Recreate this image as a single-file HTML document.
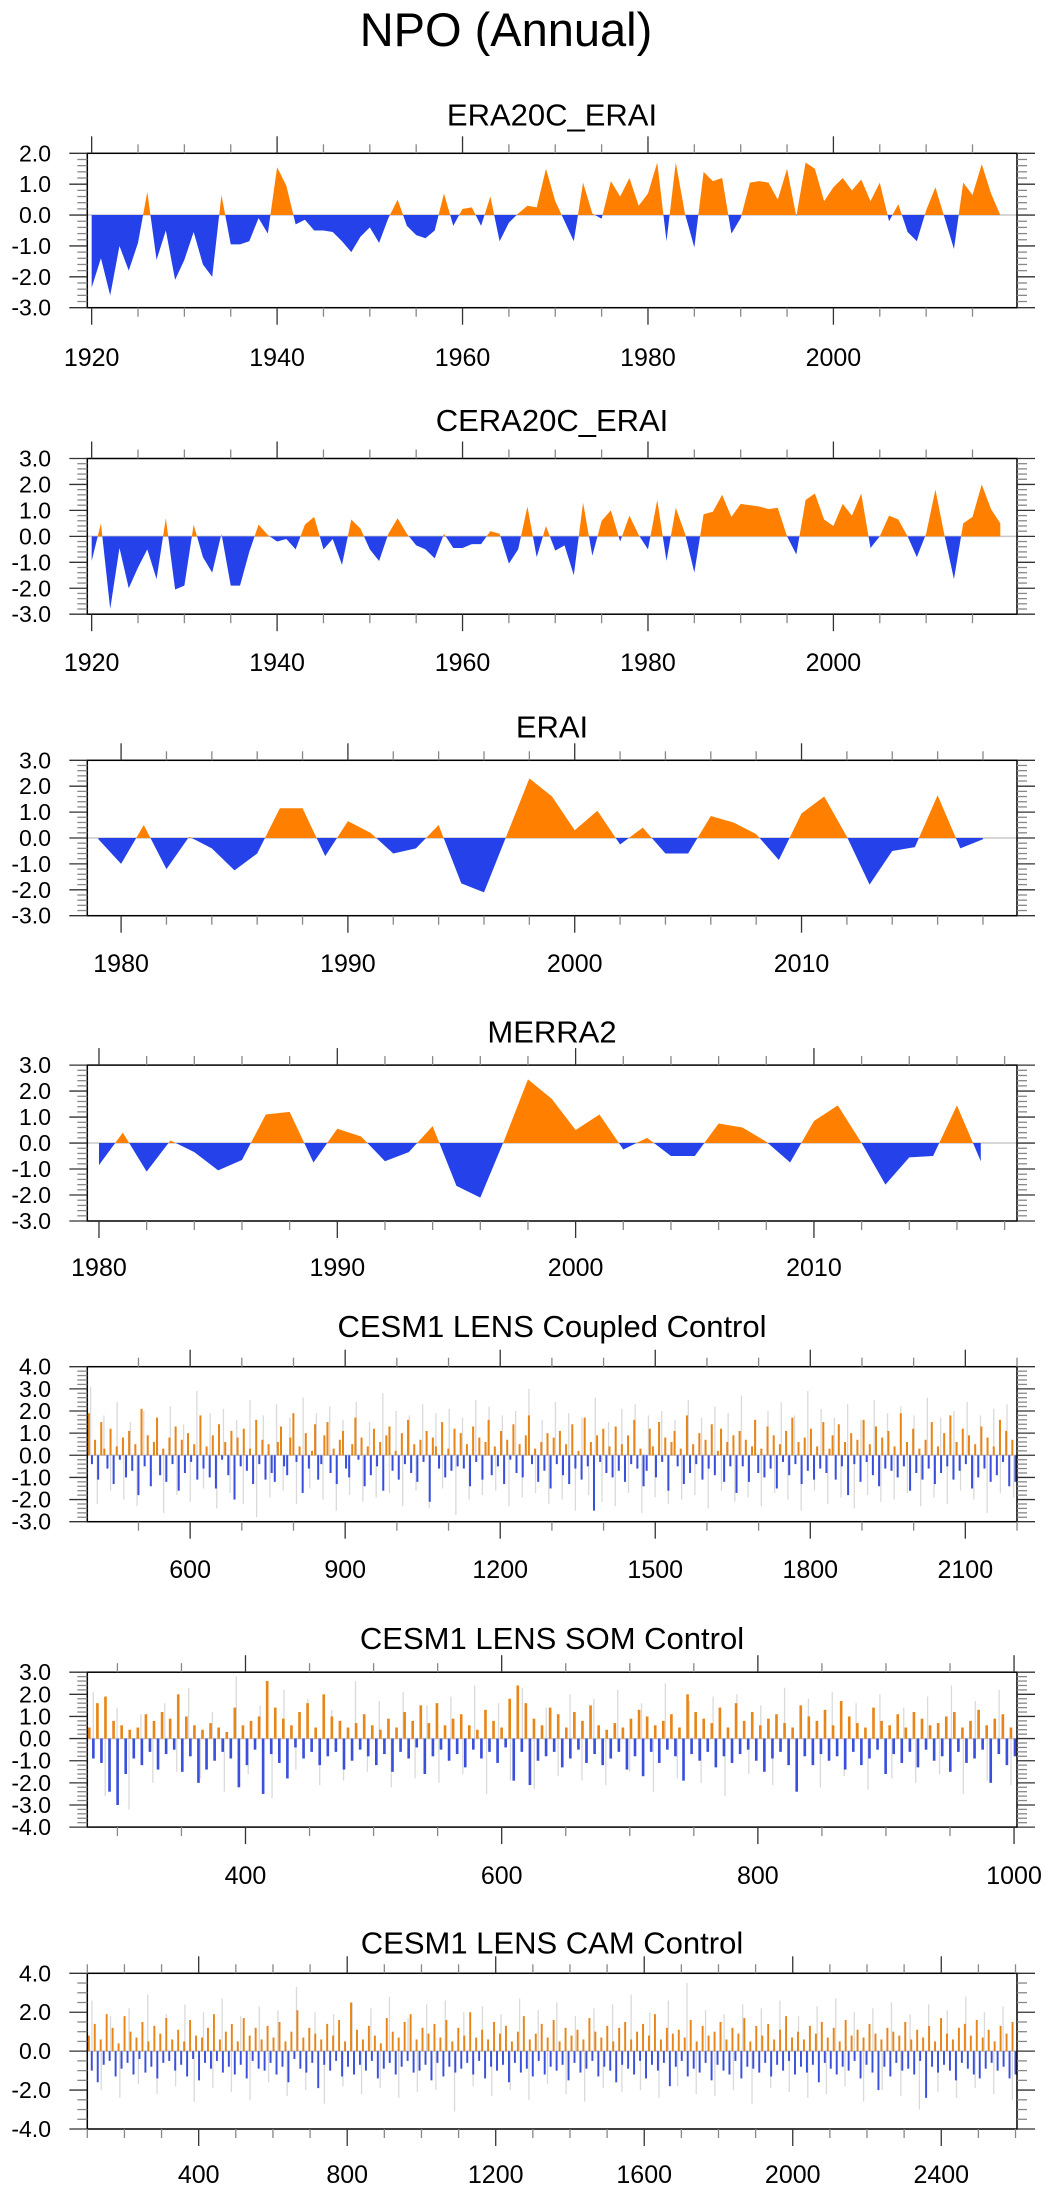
<!DOCTYPE html>
<html><head><meta charset="utf-8"><title>NPO (Annual)</title>
<style>
html,body{margin:0;padding:0;background:#fff;}
svg{display:block;font-family:"Liberation Sans",Arial,sans-serif;}
</style></head>
<body>
<svg id="fig" width="1049" height="2192" viewBox="0 0 1049 2192" xmlns="http://www.w3.org/2000/svg">
<rect x="0" y="0" width="1049" height="2192" fill="#fff"/>
<text x="506" y="46" font-size="47" text-anchor="middle" fill="#000">NPO (Annual)</text>
</svg>
<script>
// ---------- data ----------
const era20cYears = [1920,1921,1922,1923,1924,1925,1926,1927,1928,1929,1930,1931,1932,1933,1934,1935,1936,1937,1938,1939,1940,1941,1942,1943,1944,1945,1946,1947,1948,1949,1950,1951,1952,1953,1954,1955,1956,1957,1958,1959,1960,1961,1962,1963,1964,1965,1966,1967,1968,1969,1970,1971,1972,1973,1974,1975,1976,1977,1978,1979,1980,1981,1982,1983,1984,1985,1986,1987,1988,1989,1990,1991,1992,1993,1994,1995,1996,1997,1998,1999,2000,2001,2002,2003,2004,2005,2006,2007,2008,2009,2010,2011,2012,2013,2014,2015,2016,2017,2018];
const era20cValues = [-2.35,-1.4,-2.6,-1.0,-1.8,-0.9,0.75,-1.45,-0.5,-2.1,-1.45,-0.55,-1.6,-2.0,0.65,-0.95,-0.95,-0.85,-0.1,-0.6,1.55,0.95,-0.3,-0.15,-0.5,-0.5,-0.55,-0.85,-1.2,-0.7,-0.4,-0.9,-0.1,0.5,-0.35,-0.65,-0.75,-0.5,0.7,-0.35,0.2,0.25,-0.35,0.6,-0.85,-0.25,0.05,0.3,0.25,1.5,0.45,-0.2,-0.85,1.05,0.05,-0.12,1.1,0.6,1.2,0.3,0.7,1.7,-0.85,1.7,0.03,-1.05,1.4,1.1,1.2,-0.6,-0.1,1.05,1.1,1.05,0.5,1.5,-0.05,1.7,1.5,0.45,0.9,1.2,0.8,1.15,0.45,1.05,-0.2,0.35,-0.55,-0.85,0.15,0.9,-0.1,-1.1,1.05,0.65,1.65,0.7,0.0];
const ceraYears = era20cYears;
const ceraValues = [-0.95,0.5,-2.8,-0.45,-2.0,-1.2,-0.5,-1.65,0.7,-2.05,-1.9,0.45,-0.8,-1.4,0.1,-1.9,-1.9,-0.6,0.45,0.05,-0.2,-0.1,-0.5,0.45,0.75,-0.5,-0.1,-1.1,0.65,0.3,-0.5,-0.95,0.1,0.7,0.1,-0.35,-0.5,-0.85,0.1,-0.45,-0.45,-0.3,-0.3,0.2,0.1,-1.05,-0.5,1.15,-0.8,0.4,-0.55,-0.35,-1.5,1.3,-0.75,0.6,1.0,-0.2,0.8,0.05,-0.5,1.4,-0.95,1.1,0.1,-1.4,0.85,0.95,1.6,0.75,1.25,1.2,1.15,1.05,1.1,0.0,-0.7,1.4,1.65,0.65,0.4,1.25,0.8,1.65,-0.45,0.0,0.8,0.65,0.0,-0.8,0.1,1.8,0.0,-1.65,0.5,0.75,2.0,1.05,0.5];
const eraiYears = [1979,1980,1981,1982,1983,1984,1985,1986,1987,1988,1989,1990,1991,1992,1993,1994,1995,1996,1997,1998,1999,2000,2001,2002,2003,2004,2005,2006,2007,2008,2009,2010,2011,2012,2013,2014,2015,2016,2017,2018];
const eraiValues = [-0.05,-1.0,0.5,-1.2,0.05,-0.4,-1.25,-0.6,1.15,1.15,-0.7,0.65,0.2,-0.6,-0.4,0.5,-1.75,-2.1,0.1,2.3,1.6,0.3,1.05,-0.25,0.4,-0.6,-0.6,0.85,0.6,0.15,-0.85,0.95,1.6,0.05,-1.8,-0.5,-0.35,1.65,-0.4,-0.05];
const merraYears = [1980,1981,1982,1983,1984,1985,1986,1987,1988,1989,1990,1991,1992,1993,1994,1995,1996,1997,1998,1999,2000,2001,2002,2003,2004,2005,2006,2007,2008,2009,2010,2011,2012,2013,2014,2015,2016,2017];
const merraValues = [-0.85,0.4,-1.1,0.1,-0.35,-1.05,-0.65,1.1,1.2,-0.75,0.55,0.25,-0.7,-0.35,0.65,-1.65,-2.1,0.1,2.45,1.7,0.5,1.1,-0.25,0.2,-0.5,-0.5,0.75,0.6,0.05,-0.75,0.85,1.45,0.0,-1.6,-0.55,-0.5,1.45,-0.7];

const coupledValues = [1.9,-0.4,0.7,-1.1,1.5,0.3,-0.6,1.2,-1.3,0.4,-0.2,0.8,-1.0,1.1,-0.7,0.5,-1.8,2.1,-0.5,0.9,-1.4,0.6,1.7,-0.9,0.3,-1.2,0.8,-0.4,1.3,-1.6,
0.7,-0.8,1.0,-0.3,0.5,-1.1,1.8,-0.6,0.4,-1.0,0.9,-1.5,1.4,-0.2,0.6,-0.9,1.1,-2.0,0.8,-0.5,1.2,-0.7,0.3,-1.3,1.6,-0.4,0.7,-1.1,0.5,-0.8,
-1.2,0.6,1.3,-0.5,-0.9,0.8,1.9,-0.3,0.4,-1.7,1.0,-0.6,0.2,1.4,-1.1,-0.4,0.9,1.5,-0.8,0.3,-1.3,0.7,1.1,-0.6,-1.0,0.5,1.7,-0.2,0.8,-1.4,
0.4,-0.9,1.2,-0.5,0.6,-1.6,0.9,1.3,-0.7,0.2,-1.1,1.0,-0.4,1.6,-0.8,0.5,-1.2,0.7,-0.3,1.1,-2.1,0.8,0.4,-0.6,1.5,-1.0,0.3,-0.7,1.2,-0.5,
1.0,-0.6,0.5,-1.4,1.3,-0.3,0.8,-1.1,0.6,1.6,-0.9,0.4,-0.5,1.1,-1.3,0.7,-0.2,1.4,-0.8,0.5,-1.0,0.9,1.8,-0.4,0.3,-1.2,0.6,-0.7,1.0,-1.5,
0.8,-0.4,1.1,-0.9,0.5,-1.3,1.4,-0.6,0.2,-1.1,1.7,-0.5,0.6,-2.5,0.9,-0.3,1.2,-0.8,0.4,-1.0,1.3,-0.7,0.5,-1.2,0.9,-0.4,1.6,-0.6,0.3,-1.4,
-0.7,1.2,0.4,-1.0,1.5,-0.3,0.8,-1.6,0.6,1.1,-0.5,0.3,-1.3,1.8,-0.8,0.5,-0.4,1.0,-1.1,0.7,-0.6,1.4,-0.9,0.2,1.2,-1.2,0.6,-0.5,0.9,-1.7,
1.1,-0.5,0.7,-1.2,0.4,1.6,-0.8,0.3,-1.0,1.3,-0.6,0.9,-1.5,0.5,-0.3,1.1,-0.9,1.7,-0.4,0.6,-1.3,0.8,-0.7,1.2,-1.1,0.4,-0.6,1.5,-0.8,0.3,
0.9,-1.1,1.4,-0.5,0.6,-1.8,1.0,-0.4,0.7,-1.2,1.6,-0.3,0.5,-0.9,1.3,-1.4,0.8,-0.6,1.1,-0.7,0.4,-1.0,1.9,-0.5,0.6,-1.6,1.2,-0.8,0.3,-1.1,
0.7,-0.6,1.5,-1.3,0.4,-0.8,1.0,-0.5,1.8,-1.1,0.6,-0.7,1.2,-0.4,0.9,-1.5,0.5,-1.0,1.3,-0.6,0.8,-1.2,0.4,-0.9,1.6,-0.3,1.1,-1.4,0.7,-1.2];
const coupledGray = [3.1,-2.2,1.8,-1.6,2.4,-2.0,1.5,-2.3,2.0,-1.4,1.7,-2.6,2.2,-1.8,1.4,-2.1,2.9,-1.5,1.9,-2.4,2.1,-1.7,1.6,-2.2,2.5,-2.8,1.8,-1.9,2.3,-1.6,
1.7,-2.2,2.6,-1.5,1.9,-2.0,2.2,-2.5,1.6,-1.8,2.4,-2.1,1.5,-1.9,2.8,-1.7,2.0,-2.3,1.8,-1.6,2.3,-2.4,1.9,-1.5,2.1,-2.7,1.7,-2.0,2.5,-1.8,
2.2,-1.6,1.8,-2.3,2.0,-1.9,3.0,-1.7,1.6,-2.2,2.4,-2.0,1.9,-2.5,1.7,-1.8,2.6,-2.1,1.5,-2.3,2.1,-1.7,2.3,-2.6,1.8,-1.9,2.0,-2.2,1.6,-2.0,
2.5,-1.8,1.7,-2.4,2.2,-1.6,1.9,-2.1,2.7,-1.9,1.6,-2.3,2.0,-1.7,2.4,-2.0,1.8,-2.5,2.9,-1.6,2.1,-2.2,1.7,-1.9,2.3,-2.4,1.6,-1.8,2.5,-2.1,
1.9,-2.0,2.2,-1.7,1.8,-2.3,2.6,-1.9,1.7,-2.2,2.0,-1.6,2.4,-2.0,1.8,-2.6,2.1,-1.7,2.3,-1.9];
const somValues = [0.5,-0.9,1.6,-1.1,1.9,-2.4,0.8,-3.0,0.6,-1.6,0.4,-0.9,0.5,-1.2,1.1,-0.6,0.8,-1.4,1.2,-0.7,0.9,-0.5,2.0,-1.5,1.0,-0.8,0.6,-2.0,0.4,-1.4,
0.7,-1.0,0.5,-0.6,0.3,-0.9,1.4,-2.2,0.6,-1.2,0.8,-0.5,1.0,-2.5,2.6,-0.7,1.4,-1.1,0.9,-1.8,0.6,-0.4,1.2,-0.9,1.6,-0.6,0.5,-1.2,2.0,-0.8,
1.0,-0.6,0.8,-1.4,0.5,-1.0,0.7,-0.5,1.1,-0.8,0.6,-1.2,0.4,-0.7,0.9,-1.5,0.5,-0.6,1.2,-0.9,0.8,-0.4,1.5,-1.6,0.7,-0.8,1.6,-0.5,0.6,-1.0,
0.9,-0.7,1.1,-1.3,0.6,-0.5,0.4,-0.9,1.3,-0.6,0.8,-1.1,0.5,-0.4,1.8,-1.9,2.4,-0.6,1.6,-2.1,0.9,-1.0,0.6,-0.8,1.4,-0.6,1.1,-1.3,0.5,-0.9,
1.2,-0.5,0.8,-1.1,1.5,-0.7,0.6,-1.2,0.4,-0.9,0.7,-0.6,0.5,-1.4,0.9,-0.8,1.3,-1.7,1.0,-0.6,0.6,-1.1,0.8,-0.5,1.1,-0.8,0.5,-1.9,2.0,-0.7,
1.2,-1.0,0.9,-0.6,0.7,-1.3,1.4,-0.8,0.5,-1.1,1.6,-0.7,0.8,-0.5,1.2,-1.0,0.6,-1.5,0.9,-0.9,1.1,-0.6,0.7,-1.2,0.5,-2.4,1.5,-0.8,1.0,-1.2,
0.8,-0.7,1.3,-1.0,0.6,-0.8,1.7,-1.4,1.0,-0.6,0.7,-1.2,0.5,-0.9,1.4,-0.5,0.8,-1.6,0.6,-0.7,1.1,-1.1,0.5,-0.6,1.2,-1.3,0.9,-0.5,0.6,-1.0,
0.7,-0.8,1.0,-1.5,1.2,-0.6,0.5,-1.1,0.8,-0.9,1.3,-0.5,0.6,-2.0,0.9,-0.7,1.1,-1.2,0.5,-0.8];
const somGray = [2.1,-2.6,1.4,-3.2,1.1,-2.0,1.6,-1.5,2.3,-1.8,1.2,-2.4,2.8,-1.6,1.5,-2.7,2.2,-1.4,1.8,-2.1,1.3,-1.9,2.6,-1.5,1.7,-2.2,2.1,-1.8,1.5,-2.0,
1.9,-1.6,2.4,-2.5,1.6,-1.9,2.3,-2.3,1.4,-1.7,2.0,-1.9,1.8,-2.1,2.2,-1.5,1.6,-2.4,2.5,-1.8,1.7,-2.0,1.9,-2.6,2.0,-1.6,1.5,-2.1,2.3,-1.9,
1.8,-2.2,2.1,-1.7,1.6,-2.3,2.0,-1.8,1.4,-2.0,1.9,-1.6,2.4,-2.5,1.7,-1.9,2.2,-2.1];
const camValues = [0.8,-1.0,1.4,-1.6,0.6,-0.7,1.9,-0.5,1.2,-1.3,0.4,-0.9,1.8,-0.6,1.0,-1.2,0.7,-0.4,1.5,-1.1,0.5,-0.8,1.3,-1.4,0.9,-0.6,1.7,-0.5,0.6,-1.0,
1.1,-0.7,0.5,-1.3,1.6,-0.4,0.8,-1.5,0.7,-0.6,1.2,-0.9,1.9,-0.5,0.6,-1.1,1.0,-0.8,1.4,-1.2,0.5,-0.7,1.7,-1.4,0.8,-0.5,1.2,-0.9,0.6,-1.0,
1.3,-0.6,0.7,-1.2,1.5,-0.8,0.5,-1.6,1.0,-0.4,2.1,-0.9,0.7,-1.1,1.2,-0.6,0.9,-1.9,0.6,-0.7,1.4,-1.0,0.8,-0.5,1.6,-1.3,0.5,-0.8,2.5,-1.2,
1.1,-0.7,0.6,-1.0,1.3,-0.5,0.8,-1.4,0.4,-0.9,1.7,-0.6,1.0,-1.2,0.7,-0.8,1.5,-0.5,1.9,-1.1,0.6,-1.0,1.2,-0.7,0.9,-1.5,1.4,-0.6,0.7,-1.3,
1.6,-0.8,0.5,-1.1,1.2,-0.9,0.8,-0.6,2.0,-1.2,0.7,-0.5,1.1,-1.4,0.6,-0.8,1.5,-1.0,0.9,-0.7,1.3,-1.6,0.5,-0.6,1.0,-1.1,1.8,-0.9,0.6,-1.3,
0.9,-0.5,1.4,-1.2,0.7,-0.8,1.6,-1.0,0.5,-0.7,1.2,-1.5,0.8,-0.6,1.1,-1.1,0.6,-0.9,1.7,-0.5,1.0,-1.3,0.7,-0.8,1.3,-1.0,0.5,-1.6,1.2,-0.7,
1.5,-0.9,0.6,-1.2,1.0,-0.5,1.4,-1.4,0.8,-0.7,1.9,-1.0,0.6,-0.6,1.2,-1.8,0.9,-0.8,1.1,-0.5,0.7,-1.3,1.6,-0.9,0.5,-1.1,1.3,-0.6,0.8,-1.5,
1.0,-0.7,1.5,-1.0,0.6,-1.2,1.2,-0.5,0.9,-1.4,1.7,-0.8,0.5,-0.9,1.3,-1.1,0.8,-0.6,1.4,-1.3,0.6,-0.7,1.1,-1.0,1.8,-0.5,0.7,-1.2,1.0,-0.8,
0.6,-1.1,1.3,-0.7,0.9,-1.6,1.5,-0.6,0.7,-0.9,1.2,-1.2,0.5,-0.8,1.6,-1.0,0.8,-0.5,1.1,-1.4,0.7,-0.7,1.4,-1.1,0.9,-2.0,0.6,-0.8,1.2,-1.3,
1.0,-0.6,0.8,-1.0,1.5,-0.9,0.6,-1.2,1.1,-0.5,0.7,-2.4,1.3,-0.8,0.5,-1.1,1.7,-0.7,0.9,-1.0,0.6,-1.5,1.2,-0.6,1.4,-0.9,0.8,-1.2,1.6,-1.4,
0.7,-0.9,1.1,-0.6,0.5,-1.0,1.3,-0.8,0.9,-1.4,1.5,-1.2];
const camGray = [2.6,-2.0,1.8,-2.4,2.2,-1.7,2.9,-2.2,1.9,-1.8,2.4,-2.6,2.0,-1.9,2.7,-2.1,1.8,-2.5,2.3,-1.6,2.1,-2.3,3.3,-2.0,2.0,-2.7,1.9,-1.8,2.5,-2.2,
2.2,-1.9,2.8,-2.4,1.7,-2.1,2.4,-2.0,2.6,-3.1,2.0,-1.8,2.3,-2.3,1.9,-2.0,2.7,-2.5,2.1,-1.7,2.5,-2.2,1.8,-2.6,2.2,-1.9,2.4,-2.1,2.9,-2.0,
2.0,-2.4,2.6,-1.8,3.5,-2.2,2.1,-2.3,1.9,-2.0,2.4,-2.7,2.2,-1.9,2.6,-2.1,1.8,-2.4,2.3,-2.2,2.7,-1.8,2.0,-2.6,2.2,-2.0,2.5,-2.3,1.9,-3.0,
2.4,-2.1,2.1,-2.4,2.8,-1.9,2.0,-2.2,2.3,-2.5];

// ---------- figure ----------
const NS = "http://www.w3.org/2000/svg";
const svg = document.getElementById("fig");
const L = 87.3, R = 1017;
const ORANGE = "#ff8000", BLUE = "#2542ea";
const ORANGE_B = "#e88518", BLUE_B = "#3a4fdc", GRAY = "#dadada";

function mk(tag, attrs, parent) {
  const e = document.createElementNS(NS, tag);
  for (const k in attrs) e.setAttribute(k, attrs[k]);
  (parent || svg).appendChild(e);
  return e;
}
function fmt(v) { return v.toFixed(1); }

function drawPanel(p) {
  const g = mk("g", {});
  
  
  const sx = x => L + (x - p.xmin) / (p.xmax - p.xmin) * (R - L);
  const sy = v => p.top + (p.ymax - v) / (p.ymax - p.ymin) * (p.bottom - p.top);
  const zy = sy(0);

  const t = mk("text", {x: 552, y: p.titleY, "font-size": 31, "text-anchor": "middle", fill: "#000"}, g);
  
  
  t.textContent = p.title;

  const clip = mk("clipPath", {id: "clip-" + p.name}, g);
  mk("rect", {x: L, y: p.top, width: R - L, height: p.bottom - p.top}, clip);
  const data = mk("g", {"clip-path": "url(#clip-" + p.name + ")"}, g);
  
  

  const zl = mk("line", {x1: L, x2: R, y1: zy, y2: zy, stroke: "#c8c8c8", "stroke-width": 1.5}, data);
  
  

  if (p.type === "area") {
    const xs = p.years, vs = p.values;
    const pts = [];
    for (let i = 0; i < xs.length; i++) {
      if (i > 0 && (vs[i - 1] > 0) !== (vs[i] > 0) && vs[i - 1] !== 0 && vs[i] !== 0) {
        const f = vs[i - 1] / (vs[i - 1] - vs[i]);
        pts.push([xs[i - 1] + f * (xs[i] - xs[i - 1]), 0]);
      }
      pts.push([xs[i], vs[i]]);
    }
    const build = fn => {
      let d = "M" + sx(pts[0][0]).toFixed(2) + "," + zy.toFixed(2);
      for (const q of pts) d += " L" + sx(q[0]).toFixed(2) + "," + sy(fn(q[1])).toFixed(2);
      d += " L" + sx(pts[pts.length - 1][0]).toFixed(2) + "," + zy.toFixed(2) + " Z";
      return d;
    };
    const po = mk("path", {d: build(v => Math.max(v, 0)), fill: ORANGE}, data);
    
    
    const pb = mk("path", {d: build(v => Math.min(v, 0)), fill: BLUE}, data);
    
    
  } else {
    const span = p.xmax - p.xmin;
    const gstep = span / p.gray.length;
    const gw = 1.3;
    p.gray.forEach((v, i) => {
      const x = sx(p.xmin + (i + 0.5) * gstep);
      const r = mk("rect", {x: x - gw / 2, width: gw, y: Math.min(sy(v), zy), height: Math.abs(sy(v) - zy), fill: GRAY}, data);
      
      
    });
    const step = span / p.values.length;
    const bw = (R - L) / p.values.length * 0.65;
    p.values.forEach((v, i) => {
      const x = sx(p.xmin + (i + 0.5) * step);
      const r = mk("rect", {x: x - bw / 2, width: bw, y: Math.min(sy(v), zy), height: Math.abs(sy(v) - zy), fill: v >= 0 ? ORANGE_B : BLUE_B}, data);
      
      
    });
  }

  const fr = mk("rect", {x: L, y: p.top, width: R - L, height: p.bottom - p.top, fill: "none", stroke: "#000", "stroke-width": 1.5}, g);
  
  

  // y ticks
  const eps = 1e-6;
  for (let v = p.ymin; v <= p.ymax + eps; v += p.yminor) {
    const y = sy(v);
    const isMaj = Math.abs(v / p.ymajor - Math.round(v / p.ymajor)) < 1e-4;
    const len = isMaj ? 18 : 10;
    const col = isMaj ? "#333" : "#888";
    mk("line", {x1: L - len, x2: L, y1: y, y2: y, stroke: col, "stroke-width": 1.3}, g);
    mk("line", {x1: R, x2: R + len, y1: y, y2: y, stroke: col, "stroke-width": 1.3}, g);
    if (isMaj) {
      const lb = mk("text", {x: 51, y: y + 8, "font-size": 23, "text-anchor": "end", fill: "#000"}, g);
      
      
      lb.textContent = fmt(Math.abs(v) < eps ? 0 : v);
    }
  }
  // x ticks
  const start = Math.ceil(p.xmin / p.xminor) * p.xminor;
  for (let x = start; x <= p.xmax + eps; x += p.xminor) {
    const px = sx(x);
    const isMaj = x % p.xmajor === 0;
    const len = isMaj ? 17 : 9;
    const col = isMaj ? "#333" : "#888";
    mk("line", {x1: px, x2: px, y1: p.bottom, y2: p.bottom + len, stroke: col, "stroke-width": 1.3}, g);
    mk("line", {x1: px, x2: px, y1: p.top - len, y2: p.top, stroke: col, "stroke-width": 1.3}, g);
    if (isMaj && (px < R - 5 || (p.name === "som" && x === 1000))) {
      const lb = mk("text", {x: px, y: p.xlabY, "font-size": 25, "text-anchor": "middle", fill: "#000"}, g);
      
      
      lb.textContent = String(x);
    }
  }
}

const panels = [
  {name: "era20c-erai", title: "ERA20C_ERAI", type: "area", years: era20cYears, values: era20cValues, top: 153.3, bottom: 307.7, ymin: -3, ymax: 2, ymajor: 1, yminor: 0.2, xmin: 1919.53, xmax: 2019.8, xmajor: 20, xminor: 5, titleY: 125.6, xlabY: 366},
  {name: "cera20c-erai", title: "CERA20C_ERAI", type: "area", years: ceraYears, values: ceraValues, top: 458.5, bottom: 614.2, ymin: -3, ymax: 3, ymajor: 1, yminor: 0.2, xmin: 1919.53, xmax: 2019.8, xmajor: 20, xminor: 5, titleY: 431, xlabY: 671},
  {name: "erai", title: "ERAI", type: "area", years: eraiYears, values: eraiValues, top: 760.3, bottom: 915.7, ymin: -3, ymax: 3, ymajor: 1, yminor: 0.2, xmin: 1978.51, xmax: 2019.5, xmajor: 10, xminor: 2, titleY: 737.6, xlabY: 972},
  {name: "merra2", title: "MERRA2", type: "area", years: merraYears, values: merraValues, top: 1065.1, bottom: 1221, ymin: -3, ymax: 3, ymajor: 1, yminor: 0.2, xmin: 1979.51, xmax: 2018.52, xmajor: 10, xminor: 2, titleY: 1042.5, xlabY: 1276},
  {name: "coupled", title: "CESM1 LENS Coupled Control", type: "bars", values: coupledValues, gray: coupledGray, top: 1366.7, bottom: 1521.7, ymin: -3, ymax: 4, ymajor: 1, yminor: 0.2, xmin: 401, xmax: 2200, xmajor: 300, xminor: 100, titleY: 1337, xlabY: 1578},
  {name: "som", title: "CESM1 LENS SOM Control", type: "bars", values: somValues, gray: somGray, top: 1672.2, bottom: 1827.1, ymin: -4, ymax: 3, ymajor: 1, yminor: 0.2, xmin: 276.5, xmax: 1002.3, xmajor: 200, xminor: 50, titleY: 1649, xlabY: 1884},
  {name: "cam", title: "CESM1 LENS CAM Control", type: "bars", values: camValues, gray: camGray, top: 1973.3, bottom: 2129, ymin: -4, ymax: 4, ymajor: 2, yminor: 0.5, xmin: 100, xmax: 2604, xmajor: 400, xminor: 100, titleY: 1953.5, xlabY: 2183}
];
panels.forEach(drawPanel);
</script>
</body></html>
